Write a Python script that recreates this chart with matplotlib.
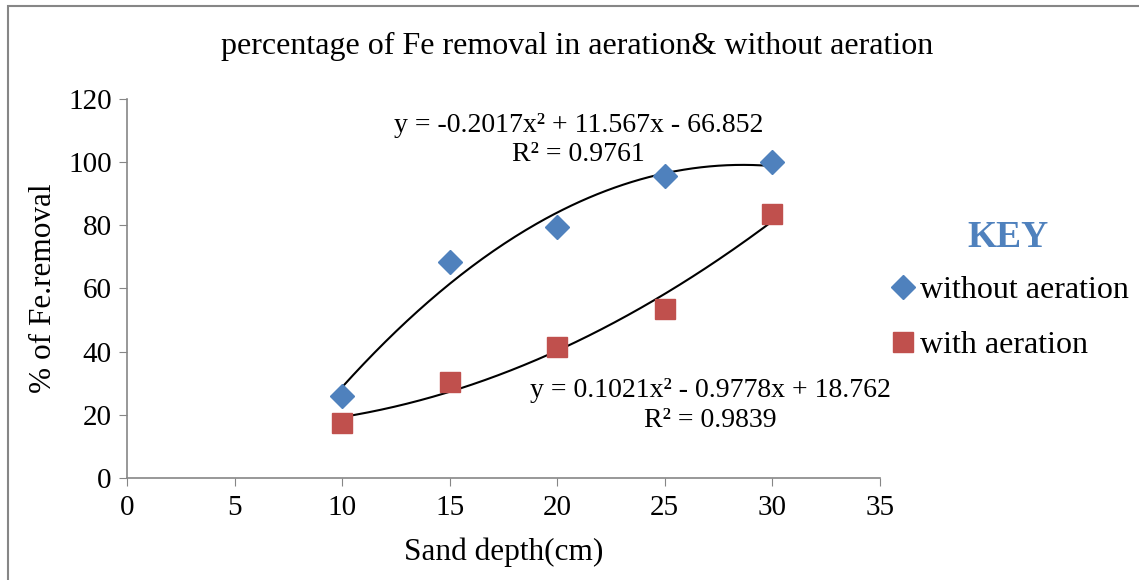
import numpy as np
import matplotlib.pyplot as plt
from matplotlib.patches import Rectangle

plt.rcParams['font.family'] = ['Liberation Serif', 'DejaVu Serif']

depth = [10, 15, 20, 25, 30]
without_aeration = [26, 68.5, 79.5, 95.5, 100]
with_aeration = [17.5, 30.5, 41.5, 53.5, 83.5]

title = 'percentage of Fe removal in aeration& without aeration'
eq_without = 'y = -0.2017x² + 11.567x - 66.852\nR² = 0.9761'
eq_with = 'y = 0.1021x² - 0.9778x + 18.762\nR² = 0.9839'

blue = '#4F81BD'
red = '#C0504D'

fig = plt.figure(figsize=(11.39, 5.8), dpi=100)
ax = fig.add_axes([0.1115, 0.1759, 0.661, 0.6534])

ax.plot(depth, without_aeration, marker='D', ms=12, lw=0, color=blue, label='without aeration', zorder=3)
ax.plot(depth, with_aeration, marker='s', ms=14, lw=0, color=red, label='with aeration', zorder=3)

# polynomial trendlines (order 2)
xs = np.linspace(min(depth), max(depth), 200)
for ys in (without_aeration, with_aeration):
    coef = np.polyfit(depth, ys, 2)
    ax.plot(xs, np.polyval(coef, xs), color='black', lw=1.5, zorder=2)

ax.set_xlim(0, 35)
ax.set_ylim(0, 120)
ax.set_xticks(range(0, 36, 5))
ax.set_yticks(range(0, 121, 20))
for s in ('top', 'right'):
    ax.spines[s].set_visible(False)
for s in ('left', 'bottom'):
    ax.spines[s].set_color('#868686')
    ax.spines[s].set_linewidth(1.2)
ax.tick_params(direction='out', length=6, color='#868686', labelsize=21)
ax.tick_params(axis='x', pad=6)
ax.tick_params(axis='y', pad=5)

ax.set_xlabel('Sand depth(cm)', fontsize=22.5, labelpad=12)
ax.set_ylabel('% of Fe.removal', fontsize=22.5, labelpad=7)

fig.text(0.507, 0.92, title, ha='center', va='center', fontsize=23)
ax.text(21.0, 107.0, eq_without, ha='center', va='center', fontsize=20, linespacing=1.2)
ax.text(27.1, 23.0, eq_with, ha='center', va='center', fontsize=20, linespacing=1.25)

fig.text(0.885, 0.59, 'KEY', ha='center', va='center', fontsize=27,
         fontweight='bold', color=blue)
leg = fig.legend(loc='upper left', bbox_to_anchor=(0.7645, 0.552), frameon=False,
                 fontsize=23, handletextpad=0.05, labelspacing=0.8, handlelength=1.0,
                 borderpad=0)

fig.patches.append(Rectangle((0.007, -0.1), 1.2, 1.09, transform=fig.transFigure,
                             fill=False, edgecolor='#868686', lw=1.5))

fig.savefig('out.png', dpi=100)
